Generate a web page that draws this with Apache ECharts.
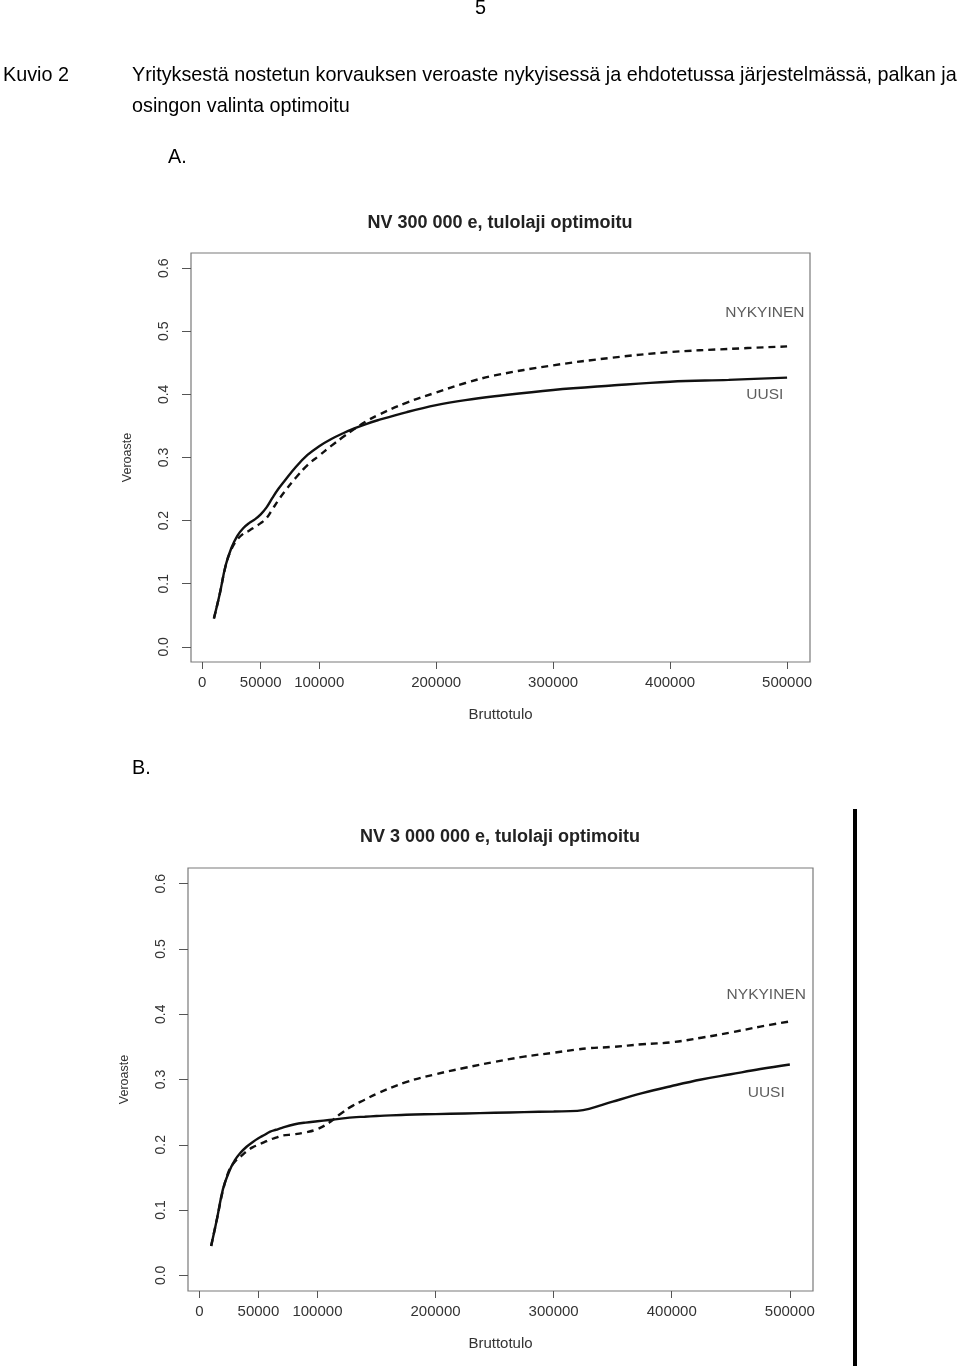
<!DOCTYPE html>
<html>
<head>
<meta charset="utf-8">
<script src="https://cdn.jsdelivr.net/npm/echarts@6/dist/echarts.min.js"></script>
<style>
  html, body { margin: 0; padding: 0; background: #fff; }
  #chart { width: 960px; height: 1369px; }
</style>
</head>
<body>
<div id="chart"></div>
<script>
// Bruttotulo -> veroaste
const incomeA = [10000, 15000, 20000, 25000, 30000, 35000, 40000, 45000, 50000, 55000,
  60000, 65000, 70000, 80000, 90000, 100000, 110000, 120000, 130000, 140000,
  150000, 175000, 200000, 225000, 250000, 300000, 350000, 400000, 450000, 500000];
const uusiA = [0.045, 0.084, 0.129, 0.157, 0.176, 0.188, 0.196, 0.202, 0.210, 0.221,
  0.236, 0.250, 0.262, 0.285, 0.304, 0.318, 0.329, 0.338, 0.346, 0.353,
  0.359, 0.372, 0.383, 0.391, 0.397, 0.407, 0.414, 0.420, 0.423, 0.4265];
const nykyinenA = [0.045, 0.084, 0.128, 0.155, 0.170, 0.179, 0.184, 0.190, 0.196, 0.204,
  0.218, 0.232, 0.245, 0.268, 0.288, 0.303, 0.318, 0.332, 0.345, 0.357,
  0.367, 0.387, 0.403, 0.418, 0.430, 0.446, 0.458, 0.467, 0.472, 0.476];

const incomeB = [10000, 15000, 20000, 25000, 30000, 35000, 40000, 45000, 50000, 55000,
  60000, 65000, 70000, 80000, 90000, 100000, 110000, 120000, 130000, 140000,
  150000, 175000, 200000, 225000, 250000, 275000, 300000, 320000, 330000, 350000,
  375000, 400000, 425000, 450000, 475000, 500000];
const uusiB = [0.045, 0.087, 0.132, 0.158, 0.176, 0.188, 0.197, 0.204, 0.210, 0.215,
  0.220, 0.223, 0.226, 0.231, 0.234, 0.236, 0.238, 0.240, 0.242, 0.243,
  0.244, 0.246, 0.247, 0.248, 0.249, 0.250, 0.251, 0.252, 0.255, 0.266,
  0.279, 0.290, 0.300, 0.308, 0.316, 0.323];
const nykyinenB = [0.045, 0.087, 0.130, 0.160, 0.174, 0.182, 0.190, 0.196, 0.200, 0.204,
  0.208, 0.211, 0.214, 0.216, 0.219, 0.224, 0.234, 0.248, 0.260, 0.269,
  0.278, 0.296, 0.308, 0.318, 0.327, 0.335, 0.341, 0.346, 0.348, 0.350,
  0.354, 0.357, 0.364, 0.372, 0.381, 0.389];

// tick labels
const xTicks = [0, 50000, 100000, 200000, 300000, 400000, 500000];
const yTicks = [0, 0.1, 0.2, 0.3, 0.4, 0.5, 0.6];

// curve labels (text(x, y, ...) positions)
const noteTexts = ['NYKYINEN', 'UUSI'];
const noteXA = [481000, 481000];
const noteYA = [0.529, 0.400];
const noteXB = [480000, 480000];
const noteYB = [0.430, 0.279];

const titles = ['NV 300 000 e, tulolaji optimoitu', 'NV 3 000 000 e, tulolaji optimoitu'];

const FONT = 'Liberation Sans, Arial, sans-serif';
const PAGE_FONT = '19.8px "Liberation Sans", sans-serif';
const INK = '#333';
const BOX = '#7a7a7a';

const pairs = (xs, ys) => xs.map((x, i) => [x, ys[i]]);
const notes = (xs, ys) => noteTexts.map((t, i) => ({ name: t, value: [xs[i], ys[i]] }));

const grids = [
  { left: 191, top: 253, width: 619, height: 409 },
  { left: 188, top: 868, width: 625, height: 423 }
];

const makeX = (gi) => ({
  type: 'value', gridIndex: gi, min: -9600, max: 519600,
  name: 'Bruttotulo', nameLocation: 'middle', nameGap: 45,
  nameTextStyle: { color: INK, fontFamily: FONT, fontSize: 15 },
  axisLine: { show: false, onZero: false },
  splitLine: { show: false },
  axisTick: { show: true, length: 7, customValues: xTicks, lineStyle: { color: '#555' } },
  axisLabel: { customValues: xTicks, color: INK, fontFamily: FONT, fontSize: 15, margin: 13,
    formatter: v => String(v) }
});
const makeY = (gi) => ({
  type: 'value', gridIndex: gi, min: -0.024, max: 0.624,
  name: 'Veroaste', nameLocation: 'middle', nameGap: 57,
  nameTextStyle: { color: INK, fontFamily: FONT, fontSize: 12.5 },
  axisLine: { show: false, onZero: false },
  splitLine: { show: false },
  axisTick: { show: true, length: 9, customValues: yTicks, lineStyle: { color: '#555' } },
  axisLabel: { customValues: yTicks, color: INK, fontFamily: FONT, fontSize: 14, margin: 20,
    rotate: 90, formatter: v => v.toFixed(1) }
});

const lineSeries = (gi, data, dashed) => ({
  type: 'line', xAxisIndex: gi, yAxisIndex: gi, data: data,
  showSymbol: false, smooth: 0.4, silent: true,
  lineStyle: { color: '#111', width: 2.4, type: dashed ? [7, 5] : 'solid' }
});
const noteSeries = (gi, data) => ({
  type: 'scatter', xAxisIndex: gi, yAxisIndex: gi, data: data, symbolSize: 0,
  label: { show: true, position: 'inside', formatter: '{b}', color: INK, fontFamily: FONT, fontSize: 15.5 }
});

const chart = echarts.init(document.getElementById('chart'), null, { renderer: 'canvas' });

chart.setOption({
  animation: false,
  backgroundColor: '#fff',
  title: [
    { text: titles[0], left: 500, top: 214, padding: 0, textAlign: 'center',
      textStyle: { fontFamily: FONT, fontSize: 18, fontWeight: 'bold', color: '#222' } },
    { text: titles[1], left: 500, top: 828, padding: 0, textAlign: 'center',
      textStyle: { fontFamily: FONT, fontSize: 18, fontWeight: 'bold', color: '#222' } }
  ],
  grid: grids.map(g => Object.assign({ show: true, borderColor: BOX, borderWidth: 1.2 }, g)),
  xAxis: [makeX(0), makeX(1)],
  yAxis: [makeY(0), makeY(1)],
  series: [
    lineSeries(0, pairs(incomeA, uusiA), false),
    lineSeries(0, pairs(incomeA, nykyinenA), true),
    noteSeries(0, notes(noteXA, noteYA)),
    lineSeries(1, pairs(incomeB, uusiB), false),
    lineSeries(1, pairs(incomeB, nykyinenB), true),
    noteSeries(1, notes(noteXB, noteYB))
  ],
  graphic: [
    { type: 'text', left: 475, top: -1, style: { text: '5', font: PAGE_FONT, fill: '#000' } },
    { type: 'text', left: 3, top: 66, style: { text: 'Kuvio 2', font: PAGE_FONT, fill: '#000' } },
    { type: 'text', left: 132, top: 66, style: { text: 'Yrityksestä nostetun korvauksen veroaste nykyisessä ja ehdotetussa järjestelmässä, palkan ja', font: PAGE_FONT, fill: '#000' } },
    { type: 'text', left: 132, top: 97, style: { text: 'osingon valinta optimoitu', font: PAGE_FONT, fill: '#000' } },
    { type: 'text', left: 168, top: 148, style: { text: 'A.', font: PAGE_FONT, fill: '#000' } },
    { type: 'text', left: 132, top: 759, style: { text: 'B.', font: PAGE_FONT, fill: '#000' } },
    { type: 'rect', left: 853, top: 809, shape: { width: 4, height: 557 }, style: { fill: '#000' } }
  ]
});
</script>
</body>
</html>
